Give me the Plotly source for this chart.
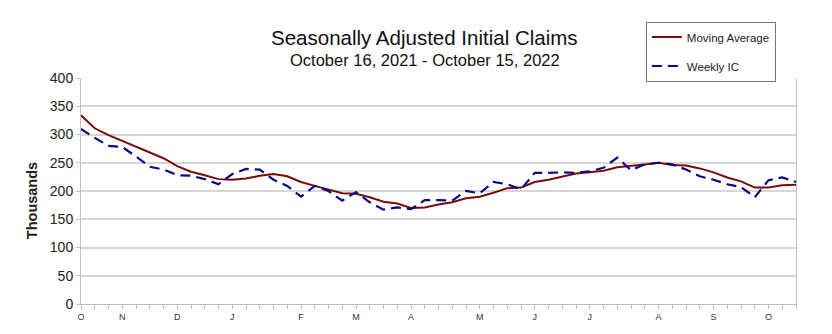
import plotly.graph_objects as go

weeks = list(range(53))  # weeks ending Oct 16, 2021 ... Oct 15, 2022
moving_average = [334, 311, 299, 289, 279, 268, 258, 244, 234, 228, 221, 220, 222, 227,
                  230, 226, 216, 209, 203, 196, 195, 189, 181, 178, 170, 171, 176,
                  180, 187, 190, 197, 205, 206, 216, 220, 226, 231, 233, 236, 242,
                  244, 247, 250, 246, 245, 240, 233, 224, 217, 206, 206, 210, 211]
weekly_ic = [310, 294, 280, 278, 261, 243, 238, 228, 227, 221, 212, 230, 239, 238,
             220, 209, 190, 209, 200, 183, 198, 180, 167, 171, 168, 184, 184,
             183, 200, 196, 216, 212, 203, 232, 232, 233, 232, 235, 241, 259,
             237, 247, 250, 247, 238, 226, 220, 212, 207, 189, 219, 224, 216]
month_ticks = [0, 3, 7, 11, 16, 20, 24, 29, 33, 37, 42, 46, 50]
month_labels = ["O", "N", "D", "J", "F", "M", "A", "M", "J", "J", "A", "S", "O"]
y_ticks = [0, 50, 100, 150, 200, 250, 300, 350, 400]

FONT = "Liberation Sans, Arial, sans-serif"

fig = go.Figure()
fig.add_trace(go.Scatter(x=weeks, y=moving_average, mode="lines", name="Moving Average",
                         line=dict(color="#7a0c0c", width=2), legendgroup="a"))
fig.add_trace(go.Scatter(x=weeks, y=weekly_ic, mode="lines", name="Weekly IC",
                         line=dict(color="#0a0a85", width=2.2, dash="10px,6px"), legendgroup="b"))

fig.update_layout(
    width=832, height=334,
    margin=dict(l=81, r=36, t=78, b=25),
    paper_bgcolor="white", plot_bgcolor="white",
    font=dict(family=FONT, color="#1a1a1a"),
    showlegend=True,
    legend=dict(x=0.790, y=1.250, xanchor="left", yanchor="top",
                bordercolor="#777777", borderwidth=1, bgcolor="white",
                font=dict(size=11.5, family=FONT, color="#222"), tracegroupgap=10,
                itemwidth=30),
    annotations=[
        dict(text="Seasonally Adjusted Initial Claims", xref="paper", yref="paper",
             x=0.481, y=1.177, xanchor="center", yanchor="middle", showarrow=False,
             font=dict(size=20.5, family=FONT, color="#111")),
        dict(text="October 16, 2021 - October 15, 2022", xref="paper", yref="paper",
             x=0.481, y=1.078, xanchor="center", yanchor="middle", showarrow=False,
             font=dict(size=16.5, family=FONT, color="#111")),
        dict(text="<b>Thousands</b>", xref="paper", yref="paper", x=-0.0685, y=0.455,
             xanchor="center", yanchor="middle", textangle=-90, showarrow=False,
             font=dict(size=14.5, family=FONT, color="#222")),
    ],
)

fig.update_xaxes(range=[0, 52], tickmode="array", tickvals=month_ticks, ticktext=month_labels,
                 showgrid=False, zeroline=False, showline=True, linecolor="#bdbdbd", linewidth=1,
                 ticks="outside", ticklen=4, tickcolor="#bdbdbd",
                 tickfont=dict(size=9, family=FONT, color="#333"),
                 minor=dict(dtick=1, tick0=0, ticks="outside", ticklen=4, tickcolor="#bdbdbd", showgrid=False))
fig.update_yaxes(range=[0, 400], tickmode="array", tickvals=y_ticks,
                 showgrid=True, gridcolor="#d6d6d6", gridwidth=1.5, zeroline=False,
                 showline=True, mirror=True, linecolor="#c4c4c4", linewidth=1,
                 ticks="outside", ticklen=4, tickcolor="#c4c4c4",
                 tickfont=dict(size=14, family=FONT, color="#222"))

fig.write_html("out.html")
